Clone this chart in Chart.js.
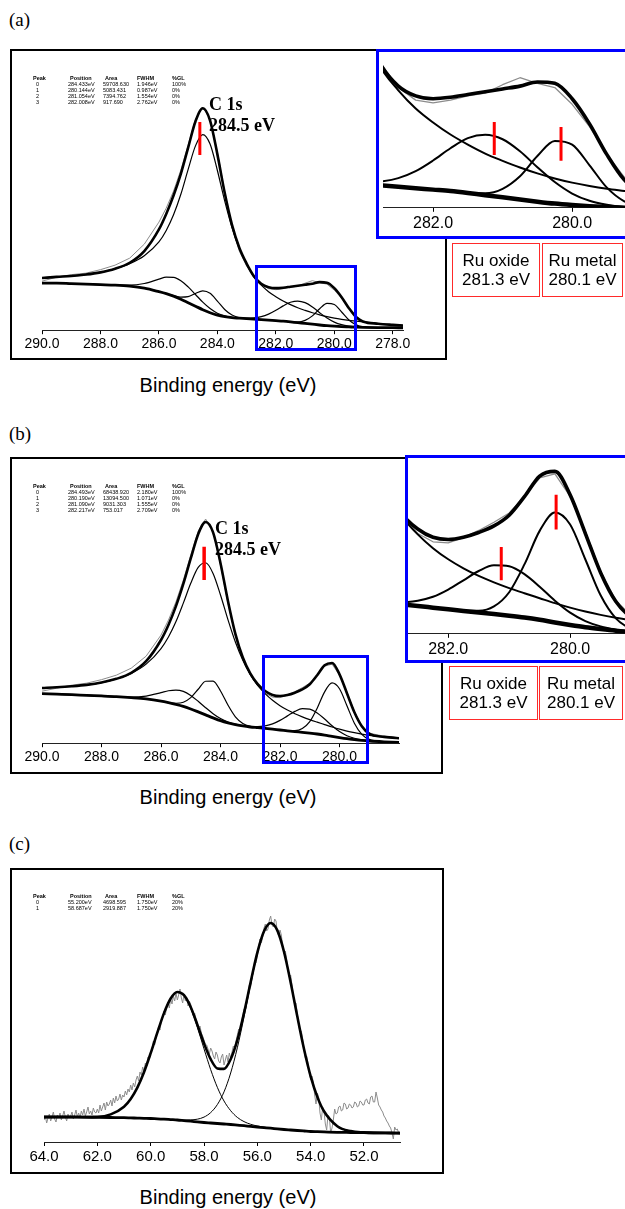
<!DOCTYPE html>
<html>
<head>
<meta charset="utf-8">
<script src="https://cdn.jsdelivr.net/npm/chart.js@4.4.0/dist/chart.umd.min.js"></script>
<style>
  html, body { margin: 0; padding: 0; background: #fff; overflow: hidden; }
  body { width: 625px; height: 1209px; position: relative; font-family: "Liberation Sans", Arial, sans-serif; color: #000; }
  canvas { position: absolute; }
  .frame { position: absolute; border: 2px solid #000; box-sizing: border-box; }
  .blue { position: absolute; border: 3px solid #0000ff; box-sizing: border-box; }
  .inset { position: absolute; border: 3px solid #0000ff; box-sizing: border-box; background: #fff; overflow: hidden; }
  .redbox { position: absolute; border: 1px solid #ff2a2a; box-sizing: border-box; height: 54px;
            font-size: 17px; line-height: 19px; text-align: center; padding-top: 7px; }
  .panel { position: absolute; font-family: "Liberation Serif", "Times New Roman", serif; font-size: 19px; line-height: 22px; }
  .c1s { position: absolute; font-family: "Liberation Serif", "Times New Roman", serif; font-weight: bold; font-size: 18px; line-height: 21px; }
  .xtitle { position: absolute; left: 10px; width: 436px; text-align: center; font-size: 20px; line-height: 24px; }
  .cell { position: absolute; font-size: 5.5px; line-height: 6px; white-space: nowrap; }
  .head { font-weight: bold; }
</style>
</head>
<body>

<div class="panel" style="left:9px; top:9px;">(a)</div>
<div class="frame" style="left:10px; top:49px; width:437px; height:311px;"></div>
<canvas id="mainA" width="432" height="305" style="left:12px; top:50px;"></canvas>
<div class="blue" style="left:255px; top:265px; width:102px; height:86px;"></div>
<div class="c1s" style="left:209px; top:94px;">C 1s<br>284.5 eV</div>
<div id="tableA"></div>
<div class="inset" style="left:376px; top:49px; width:262px; height:190px;">
  <canvas id="insetA" width="246" height="183" style="left:0; top:0;"></canvas>
</div>
<div class="redbox" style="left:452px; top:243px; width:88px;">Ru oxide<br>281.3 eV</div>
<div class="redbox" style="left:542px; top:243px; width:81px;">Ru metal<br>280.1 eV</div>
<div class="xtitle" style="top:373px;">Binding energy (eV)</div>

<div class="panel" style="left:9px; top:423px;">(b)</div>
<div class="frame" style="left:10px; top:457px; width:433px; height:317px;"></div>
<canvas id="mainB" width="428" height="305" style="left:12px; top:463px;"></canvas>
<div class="blue" style="left:262px; top:655px; width:107px; height:109px;"></div>
<div class="c1s" style="left:215px; top:518px;">C 1s<br>284.5 eV</div>
<div id="tableB"></div>
<div class="inset" style="left:405px; top:455px; width:232px; height:208px;">
  <canvas id="insetB" width="217" height="203" style="left:0; top:0;"></canvas>
</div>
<div class="redbox" style="left:449px; top:666px; width:89px;">Ru oxide<br>281.3 eV</div>
<div class="redbox" style="left:539px; top:666px; width:84px;">Ru metal<br>280.1 eV</div>
<div class="xtitle" style="top:785px;">Binding energy (eV)</div>

<div class="panel" style="left:9px; top:833px;">(c)</div>
<div class="frame" style="left:10px; top:868px; width:434px; height:306px;"></div>
<canvas id="mainC" width="430" height="296" style="left:12px; top:872px;"></canvas>
<div id="tableC"></div>
<div class="xtitle" style="top:1185px;">Binding energy (eV)</div>

<script>
// C 1s / Ru 3d region, panels (a) and (b)
const energyC1s = [290, 289.5, 289, 288.5, 288, 287.5, 287, 286.5, 286, 285.75, 285.5, 285.25, 285, 284.75, 284.5, 284.25,
  284, 283.75, 283.5, 283.25, 283, 282.75, 282.5, 282.25, 282, 281.75, 281.5, 281.25, 281, 280.75, 280.5, 280.25,
  280, 279.75, 279.5, 279.25, 279, 278.5, 278, 277.65];
const ticksC1s = [290, 288, 286, 284, 282, 280, 278];
const ticksInset = [282, 280];

// panel (a)
const aRaw = [49, 53, 55.5, 57, 60.5, 65, 72, 86, 108, 122, 139, 160, 185, 211, 223, 211,
  178, 138, 103, 79, 64, 54.5, 46, 41.5, 40.5, 41.5, 43, 44, 47, 49.5, 47.5, 46,
  40, 32, 22, 14, 9, 6.5, 5.5, 5];
const aEnvelope = [52.2, 53.3, 54.2, 55.6, 57.8, 61.4, 67.4, 79.1, 100.7, 116.2, 134.6, 156.3, 182.5, 208.6, 221.8, 209.5,
  175.7, 137.3, 105.3, 82.4, 66.6, 54, 46.5, 43, 42, 42.5, 43.5, 44.5, 45.5, 46.5, 48, 47.5,
  42, 33, 22, 13, 8.5, 6.5, 5.3, 4.6];
const aBackground = [47, 47, 46.5, 46, 45.5, 45, 44, 42, 38.5, 36.5, 34, 31, 27.5, 24, 20.5, 17.5,
  15, 13.5, 12.5, 12, 11.5, 11, 10.5, 10, 9.5, 9, 8.3, 7.5, 6.8, 6, 5.2, 4.5,
  4, 3.6, 3.3, 3, 2.8, 2.6, 2.5, 2.4];
const aCarbon = [52.2, 53.3, 54.2, 55.6, 57.8, 61.3, 66.4, 74.4, 88.2, 99.7, 115.3, 135.8, 160.7, 184.2, 195.5, 186,
  159.6, 129.3, 102.5, 81.7, 66.1, 53, 45, 38.5, 33.5, 29.2, 25.6, 22.4, 19.8, 17.4, 15.3, 13.5,
  12, 10.8, 9.8, 9, 8.2, 6.5, 5.3, 4.6];
const aOxide = [47, 47, 46.5, 46, 45.5, 45.1, 45, 46.7, 51, 53, 52.8, 49.5, 43.3, 35.7, 28, 21.6,
  17, 14.3, 12.7, 12.1, 12, 12.4, 13.6, 16.1, 19.9, 24.3, 27.9, 29.1, 27.5, 23.2, 17.5, 12.2,
  8.1, 5.5, 4.1, 3.3, 2.9, 2.6, 2.5, 2.4];
const aMetal = [47, 47, 46.5, 46, 45.5, 45, 44, 42, 38.5, 36.5, 34.5, 33, 33.5, 36.7, 39.3, 36.9,
  29.1, 20.7, 15.1, 12.6, 11.5, 11, 10.5, 10, 9.5, 9, 8.4, 8.2, 9.8, 14.3, 21.5, 26.9,
  25.6, 18.2, 10.2, 5.3, 3.3, 2.6, 2.5, 2.4];
// red marks: energy, bottom, top
const aMainMark = [284.6, 175, 208];
const aOxideMark = [281.12, 21.9, 33.7];
const aMetalMark = [280.16, 19.8, 31.9];

// panel (b)
const bRaw = [52, 55, 58, 60, 63.5, 68, 75, 87, 108, 123, 141, 163, 188, 212, 224, 212,
  178, 140, 107, 84, 68, 57.5, 50, 46, 45.5, 48, 51.5, 55.5, 60, 68, 77, 79,
  68, 51, 31.5, 17.5, 10, 7, 5.5, 5];
const bEnvelope = [55.2, 55.9, 56.9, 58.3, 60.6, 64.3, 70.3, 81.9, 103.1, 118.1, 136.7, 159.1, 184.6, 208.9, 221.1, 210.7,
  179.9, 142.2, 109.3, 85.6, 69.8, 59.1, 52.2, 48.2, 47.1, 48.2, 50.5, 53.7, 58.9, 67.9, 77.9, 80.2,
  68.8, 50, 31, 17, 9.6, 6.3, 5, 4.5];
const bBackground = [49.5, 49, 48.5, 47.8, 47.2, 46.5, 45.5, 44.2, 42, 40.5, 38.8, 36.8, 34.2, 31.3, 28.3, 25.3,
  22.5, 20.3, 18.6, 17.2, 16.2, 15.5, 14.8, 14, 13.2, 12.4, 11.6, 10.9, 10.1, 9.2, 8.1, 6.8,
  5.6, 4.5, 3.6, 2.8, 2.2, 1.4, 0.8, 0.5];
const bCarbon = [55.2, 55.9, 56.9, 58.3, 60.6, 64.3, 69.8, 79, 94.6, 106.2, 121.3, 140, 159.8, 175.7, 180.3, 169.7,
  148.1, 123.5, 101.1, 82.9, 68.8, 57.9, 49.6, 42.9, 37.5, 33.1, 29.4, 26.3, 23.5, 21, 18.6, 16.2,
  14, 12.1, 10.5, 9.1, 7.9, 6.3, 5, 4.5];
const bOxide = [49.5, 49, 48.5, 47.8, 47.2, 46.5, 46, 47.1, 50.5, 52.4, 53.1, 51.8, 47.7, 41.9, 35.5, 29.5,
  24.6, 21.2, 19, 17.3, 16.6, 16.6, 17.4, 19.3, 22.8, 27.3, 31.8, 34.6, 34.1, 30.3, 24.2, 17.4,
  11.6, 7.5, 4.9, 3.3, 2.3, 1.4, 0.8, 0.5];
const bMetal = [49.5, 49, 48.5, 47.8, 47.2, 46.5, 45.5, 44.2, 42, 40.5, 39.9, 40.9, 45.5, 53.9, 61.9, 62.1,
  52.2, 38.1, 26.4, 19.8, 16.8, 15.6, 14.8, 14, 13.2, 12.6, 12.5, 14.6, 21.5, 35, 51.3, 60.2,
  54.4, 37.4, 20, 8.8, 3.8, 1.4, 0.8, 0.5];
const bMainMark = [284.55, 163, 196.3];
const bOxideMark = [281.13, 27.3, 43.5];
const bMetalMark = [280.23, 52, 68.8];

// panel (c)
const energyC = [64, 63.5, 63, 62.5, 62, 61.5, 61, 60.75, 60.5, 60.25, 60, 59.75, 59.5, 59.25, 59, 58.75,
  58.5, 58.25, 58, 57.75, 57.5, 57.25, 57, 56.75, 56.5, 56.25, 56, 55.75, 55.5, 55.25, 55, 54.75,
  54.5, 54.25, 54, 53.75, 53.5, 53, 52.5, 52, 51.5, 51, 50.65];
const ticksC = [64, 62, 60, 58, 56, 54, 52];
const cEnvelope = [25, 25, 25, 24.9, 25.1, 27.6, 35.3, 43, 54.4, 69.8, 88.8, 109.4, 128.9, 143.5, 150, 146.8,
  135, 117.4, 98.6, 82.8, 73.6, 73.1, 82.8, 101.9, 129, 160, 189.4, 210.7, 219, 211.6, 190.3, 159.6,
  125.4, 93, 65.6, 45.1, 30.7, 15.8, 10.9, 9.6, 9.1, 9, 8.9];
const cBackground = [25, 25, 25, 24.9, 24.7, 24.5, 24.3, 24.1, 23.9, 23.7, 23.5, 23.1, 22.8, 22.4, 22, 21.4,
  20.8, 20.1, 19.5, 19, 18.5, 18, 17.5, 16.9, 16.3, 15.6, 15, 14.4, 13.8, 13.1, 12.5, 12,
  11.5, 11, 10.5, 10.3, 10.1, 9.7, 9.5, 9.3, 9.1, 9, 8.9];
const cPeakHigh = [25, 25, 25, 24.9, 25.1, 27.6, 35.3, 43, 54.4, 69.8, 88.8, 109.4, 128.9, 143.4, 149.8, 146.3,
  133.7, 114.7, 93.2, 72.4, 54.7, 41, 31.3, 24.6, 20.4, 17.7, 16, 14.8, 14, 13.2, 12.6, 12,
  11.5, 11, 10.5, 10.3, 10.1, 9.7, 9.5, 9.3, 9.1, 9, 8.9];
const cPeakLow = [25, 25, 25, 24.9, 24.7, 24.5, 24.3, 24.1, 23.9, 23.7, 23.5, 23.1, 22.8, 22.5, 22.2, 21.9,
  22.1, 22.8, 24.9, 29.4, 37.4, 50.1, 69, 94.2, 124.9, 157.9, 188.4, 210.3, 218.8, 211.5, 190.2, 159.6,
  125.4, 93, 65.6, 45.1, 30.7, 15.8, 10.9, 9.6, 9.1, 9, 8.9];
const cRawEnergy = [
  64.00, 63.95, 63.90, 63.85, 63.80, 63.75, 63.70, 63.65, 63.60, 63.55,
  63.50, 63.45, 63.40, 63.35, 63.30, 63.25, 63.20, 63.15, 63.10, 63.05,
  63.00, 62.95, 62.90, 62.85, 62.80, 62.75, 62.70, 62.65, 62.60, 62.55,
  62.50, 62.45, 62.40, 62.35, 62.30, 62.25, 62.20, 62.15, 62.10, 62.05,
  62.00, 61.95, 61.90, 61.85, 61.80, 61.75, 61.70, 61.65, 61.60, 61.55,
  61.50, 61.45, 61.40, 61.35, 61.30, 61.25, 61.20, 61.15, 61.10, 61.05,
  61.00, 60.95, 60.90, 60.85, 60.80, 60.75, 60.70, 60.65, 60.60, 60.55,
  60.50, 60.45, 60.40, 60.35, 60.30, 60.25, 60.20, 60.15, 60.10, 60.05,
  60.00, 59.95, 59.90, 59.85, 59.80, 59.75, 59.70, 59.65, 59.60, 59.55,
  59.50, 59.45, 59.40, 59.35, 59.30, 59.25, 59.20, 59.15, 59.10, 59.05,
  59.00, 58.95, 58.90, 58.85, 58.80, 58.75, 58.70, 58.65, 58.60, 58.55,
  58.50, 58.45, 58.40, 58.35, 58.30, 58.25, 58.20, 58.15, 58.10, 58.05,
  58.00, 57.95, 57.90, 57.85, 57.80, 57.75, 57.70, 57.65, 57.60, 57.55,
  57.50, 57.45, 57.40, 57.35, 57.30, 57.25, 57.20, 57.15, 57.10, 57.05,
  57.00, 56.95, 56.90, 56.85, 56.80, 56.75, 56.70, 56.65, 56.60, 56.55,
  56.50, 56.45, 56.40, 56.35, 56.30, 56.25, 56.20, 56.15, 56.10, 56.05,
  56.00, 55.95, 55.90, 55.85, 55.80, 55.75, 55.70, 55.65, 55.60, 55.55,
  55.50, 55.45, 55.40, 55.35, 55.30, 55.25, 55.20, 55.15, 55.10, 55.05,
  55.00, 54.95, 54.90, 54.85, 54.80, 54.75, 54.70, 54.65, 54.60, 54.55,
  54.50, 54.45, 54.40, 54.35, 54.30, 54.25, 54.20, 54.15, 54.10, 54.05,
  54.00, 53.95, 53.90, 53.85, 53.80, 53.75, 53.70, 53.65, 53.60, 53.55,
  53.50, 53.45, 53.40, 53.35, 53.30, 53.25, 53.20, 53.15, 53.10, 53.05,
  53.00, 52.95, 52.90, 52.85, 52.80, 52.75, 52.70, 52.65, 52.60, 52.55,
  52.50, 52.45, 52.40, 52.35, 52.30, 52.25, 52.20, 52.15, 52.10, 52.05,
  52.00, 51.95, 51.90, 51.85, 51.80, 51.75, 51.70, 51.65, 51.60, 51.55,
  51.50, 51.45, 51.40, 51.35, 51.30, 51.25, 51.20, 51.15, 51.10, 51.05,
  51.00, 50.95, 50.90, 50.85, 50.80, 50.75, 50.70];
const cRaw = [
  22, 26, 19, 24, 28, 21, 25, 30, 23, 20,
  27, 24, 29, 22, 26, 31, 25, 21, 28, 24,
  26, 30, 23, 27, 32, 25, 29, 24, 31, 27,
  33, 26, 30, 35, 28, 31, 27, 34, 30, 29,
  33, 29, 37, 31, 35, 39, 32, 40, 36, 38,
  42, 36, 44, 39, 46, 41, 43, 48, 42, 47,
  45, 51, 47, 53, 50, 57, 52, 59, 55, 62,
  66, 61, 70, 67, 75, 71, 79, 76, 85, 83,
  88, 92, 101, 97, 105, 110, 116, 112, 121, 125,
  131, 127, 135, 140, 134, 143, 138, 146, 141, 149,
  142, 147, 153, 144, 139, 148, 141, 145, 136, 141,
  138, 131, 126, 129, 122, 119, 114, 116, 109, 106,
  102, 98, 97, 93, 88, 94, 91, 86, 83, 90,
  87, 81, 79, 85, 88, 77, 82, 87, 80, 89,
  84, 90, 96, 94, 101, 107, 113, 111, 119, 126,
  133, 131, 139, 148, 157, 155, 163, 172, 181, 179,
  186, 195, 203, 199, 205, 214, 218, 211, 213, 222,
  226, 217, 215, 223, 221, 210, 206, 212, 207, 196,
  188, 191, 183, 172, 165, 167, 157, 146, 137, 139,
  128, 117, 110, 111, 103, 92, 84, 86, 79, 69,
  62, 66, 60, 47, 38, 49, 45, 29, 22, 35,
  31, 18, 12, 27, 25, 9, 14, 22, 33, 28,
  29, 35, 36, 31, 32, 39, 38, 33, 34, 38,
  37, 34, 35, 40, 39, 35, 36, 41, 40, 37,
  37, 42, 43, 39, 38, 45, 46, 40, 40, 50,
  44, 37, 35, 32, 30, 26, 24, 21, 19, 16,
  14, 9, 3, 15, 12, 13, 9];

// fit tables printed in the plots
const tableHead = ['Peak', 'Position', 'Area', 'FWHM', '%GL'];
const tableA = [
  ['0', '284.433eV', '59708.630', '1.946eV', '100%'],
  ['1', '280.144eV', '5083.431', '0.987eV', '0%'],
  ['2', '281.054eV', '7394.762', '1.554eV', '0%'],
  ['3', '282.008eV', '917.690', '2.762eV', '0%']];
const tableB = [
  ['0', '284.493eV', '68438.920', '2.180eV', '100%'],
  ['1', '280.190eV', '13094.500', '1.071eV', '0%'],
  ['2', '281.090eV', '9031.303', '1.555eV', '0%'],
  ['3', '282.217eV', '753.017', '2.709eV', '0%']];
const tableC = [
  ['0', '55.200eV', '4698.595', '1.750eV', '20%'],
  ['1', '58.687eV', '2919.887', '1.750eV', '20%']];

function drawTable(id, top, rows) {
  const box = document.getElementById(id);
  const headX = [33, 70, 105, 137, 172];
  const cellX = [36, 68, 103, 137, 172];
  tableHead.forEach((t, j) => {
    const d = document.createElement('div');
    d.className = 'cell head';
    d.style.left = headX[j] + 'px';
    d.style.top = top + 'px';
    d.textContent = t;
    box.appendChild(d);
  });
  rows.forEach((r, i) => {
    r.forEach((t, j) => {
      const d = document.createElement('div');
      d.className = 'cell';
      d.style.left = cellX[j] + 'px';
      d.style.top = (top + 6 * (i + 1)) + 'px';
      d.textContent = t;
      box.appendChild(d);
    });
  });
}
drawTable('tableA', 75, tableA);
drawTable('tableB', 483, tableB);
drawTable('tableC', 893, tableC);

function ds(xs, ys, color, width, smooth) {
  return {
    data: xs.map((x, i) => ({ x: x, y: ys[i] })),
    borderColor: color, borderWidth: width, pointRadius: 0, fill: false,
    tension: 0, cubicInterpolationMode: smooth ? 'monotone' : 'default', borderJoinStyle: 'round'
  };
}
function mark(m, width) {
  return {
    data: [{ x: m[0], y: m[1] }, { x: m[0], y: m[2] }],
    borderColor: '#ff0000', borderWidth: width, pointRadius: 0, fill: false, tension: 0
  };
}

function makeChart(id, o) {
  return new Chart(document.getElementById(id), {
    type: 'line',
    data: { datasets: o.datasets },
    options: {
      responsive: false,
      animation: false,
      devicePixelRatio: 1,
      layout: { padding: o.padding },
      plugins: { legend: { display: false }, tooltip: { enabled: false } },
      scales: {
        x: {
          type: 'linear', reverse: true, min: o.xmin, max: o.xmax,
          afterBuildTicks: s => { s.ticks = o.ticks.map(v => ({ value: v })); },
          ticks: {
            callback: v => v.toFixed(1), color: '#000', padding: 2, maxRotation: 0, autoSkip: false,
            font: { family: '"Liberation Sans", Arial, sans-serif', size: o.font }
          },
          grid: { drawOnChartArea: false, drawTicks: true, tickLength: 4, color: '#000' },
          border: { display: true, color: '#222', width: 1 }
        },
        y: { display: false, min: o.ymin, max: o.ymax }
      }
    }
  });
}

const RAW = '#8c8c8c';

makeChart('mainA', {
  xmin: 277.65, xmax: 290, ymin: 0, ymax: 280, ticks: ticksC1s, font: 14,
  padding: { left: 30, right: 41, top: 0, bottom: 0 },
  datasets: [
    mark(aMainMark, 3),
    ds(energyC1s, aEnvelope, '#000', 2.6, true),
    ds(energyC1s, aCarbon, '#000', 1.2, true),
    ds(energyC1s, aOxide, '#000', 1.2, true),
    ds(energyC1s, aMetal, '#000', 1.2, true),
    ds(energyC1s, aBackground, '#000', 2.8, true),
    ds(energyC1s, aRaw, RAW, 1, false)
  ]
});

makeChart('insetA', {
  xmin: 279.24, xmax: 282.72, ymin: 3, ymax: 58.7, ticks: ticksInset, font: 16,
  padding: { left: 4, right: 0, top: 0, bottom: 0 },
  datasets: [
    mark(aOxideMark, 3),
    mark(aMetalMark, 3),
    ds(energyC1s, aEnvelope, '#000', 3.6, true),
    ds(energyC1s, aCarbon, '#000', 2, true),
    ds(energyC1s, aOxide, '#000', 2, true),
    ds(energyC1s, aMetal, '#000', 2, true),
    ds(energyC1s, aBackground, '#000', 4.5, true),
    ds(energyC1s, aRaw, RAW, 1.3, false)
  ]
});

makeChart('mainB', {
  xmin: 278, xmax: 290, ymin: 0, ymax: 280, ticks: [290, 288, 286, 284, 282, 280], font: 14,
  padding: { left: 30, right: 41, top: 0, bottom: 0 },
  datasets: [
    mark(bMainMark, 3.5),
    ds(energyC1s, bEnvelope, '#000', 2.6, true),
    ds(energyC1s, bCarbon, '#000', 1.2, true),
    ds(energyC1s, bOxide, '#000', 1.2, true),
    ds(energyC1s, bMetal, '#000', 1.2, true),
    ds(energyC1s, bBackground, '#000', 2.8, true),
    ds(energyC1s, bRaw, RAW, 1, false)
  ]
});

makeChart('insetB', {
  xmin: 279.1, xmax: 282.66, ymin: 1.3, ymax: 86.7, ticks: ticksInset, font: 16,
  padding: { left: 0, right: 0, top: 0, bottom: 0 },
  datasets: [
    mark(bOxideMark, 3),
    mark(bMetalMark, 3),
    ds(energyC1s, bEnvelope, '#000', 3.6, true),
    ds(energyC1s, bCarbon, '#000', 2, true),
    ds(energyC1s, bOxide, '#000', 2, true),
    ds(energyC1s, bMetal, '#000', 2, true),
    ds(energyC1s, bBackground, '#000', 4.5, true),
    ds(energyC1s, bRaw, RAW, 1.3, false)
  ]
});

makeChart('mainC', {
  xmin: 50.65, xmax: 64, ymin: 0, ymax: 270, ticks: ticksC, font: 15,
  padding: { left: 32, right: 42, top: 0, bottom: 0 },
  datasets: [
    ds(energyC, cEnvelope, '#000', 2.6, true),
    ds(energyC, cPeakHigh, '#000', 1, true),
    ds(energyC, cPeakLow, '#000', 1, true),
    ds(energyC, cBackground, '#000', 2.8, true),
    ds(cRawEnergy, cRaw, RAW, 1, false)
  ]
});
</script>
</body>
</html>
